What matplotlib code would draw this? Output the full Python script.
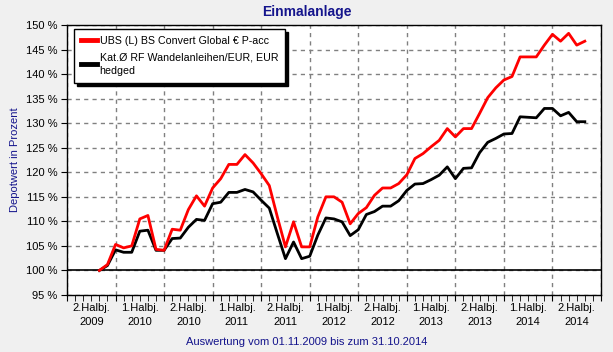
import numpy as np
import matplotlib
matplotlib.use('Agg')
import matplotlib.pyplot as plt

plt.rcParams['font.family'] = ['Liberation Sans', 'DejaVu Sans']

# month index: 0 = 01.07.2009, value at end of each month from 31.10.2009
months = list(range(4, 65))
ubs = [100.0, 101.2, 105.3, 104.6, 105.0, 110.5, 111.2, 104.3, 104.1, 108.4,
       108.2, 112.4, 115.2, 113.1, 116.8, 118.7, 121.6, 121.6, 123.6, 121.9,
       119.7, 117.3, 110.9, 104.8, 109.9, 104.8, 104.8, 110.9, 115.0, 115.0,
       113.9, 109.5, 111.6, 112.8, 115.3, 116.8, 116.8, 117.7, 119.5, 122.8,
       123.8, 125.2, 126.5, 128.9, 127.2, 128.9, 128.9, 132.0, 135.2, 137.2,
       138.8, 139.5, 143.5, 143.5, 143.5, 145.9, 148.1, 146.7, 148.3, 145.9,
       146.7]
kat = [100.0, 101.0, 104.2, 103.7, 103.7, 108.0, 108.2, 104.1, 104.1, 106.5,
       106.6, 108.8, 110.4, 110.2, 113.6, 113.9, 115.9, 115.9, 116.5, 116.0,
       114.3, 112.7, 107.5, 102.4, 105.8, 102.4, 102.9, 107.2, 110.7, 110.5,
       109.9, 107.1, 108.3, 111.4, 112.0, 113.1, 113.1, 114.2, 116.3, 117.6,
       117.7, 118.5, 119.4, 121.1, 118.7, 120.8, 120.9, 124.0, 126.1, 126.9,
       127.8, 127.9, 131.3, 131.2, 131.1, 133.0, 133.0, 131.5, 132.2, 130.3,
       130.3]
halves = ['2.Halbj.\n2009', '1.Halbj.\n2010', '2.Halbj.\n2010', '1.Halbj.\n2011',
          '2.Halbj.\n2011', '1.Halbj.\n2012', '2.Halbj.\n2012', '1.Halbj.\n2013',
          '2.Halbj.\n2013', '1.Halbj.\n2014', '2.Halbj.\n2014']
yticks = list(range(95, 151, 5))

name_ubs = 'UBS (L) BS Convert Global € P-acc'
name_kat = 'Kat.Ø RF Wandelanleihen/EUR, EUR\nhedged'

blue = '#14148c'

fig = plt.figure(figsize=(6.13, 3.52), dpi=100, facecolor='#f0f0f0')
ax = fig.add_axes([67/613, 1-295/352, 534/613, 270/352])
ax.set_facecolor('white')

ax.plot(months, ubs, color='#ff0000', lw=2, label=name_ubs, zorder=4)
ax.plot(months, kat, color='black', lw=2, label=name_kat, zorder=3)
ax.axhline(100, color='black', lw=1.2, zorder=2)

ax.set_xlim(0, 66)
ax.set_ylim(95, 150)
ax.set_yticks(yticks)
ax.set_yticklabels(['%d %%' % v for v in yticks])

# half-year boundaries carry the grid, monthly ticks carry the labels
ax.set_xticks(range(0, 67, 6))
ax.set_xticklabels([])
minor_labels = [''] * 67
for i, lab in enumerate(halves):
    minor_labels[3 + 6 * i] = lab
ax.set_xticks(range(0, 67), minor=True)
ax.set_xticklabels(minor_labels, minor=True)
for t in ax.get_xticklabels(minor=True):
    t.set_linespacing(1.45)

ax.grid(True, which='major', color='#808080', ls=(0, (3, 3)), lw=1)
ax.tick_params(axis='both', which='both', direction='out', length=4,
               labelsize=8, colors='black')
ax.tick_params(axis='x', which='minor', pad=2)
ax.tick_params(axis='y', pad=3)
for s in ax.spines.values():
    s.set_color('black')
    s.set_linewidth(1)

leg = ax.legend(loc='upper left', bbox_to_anchor=(0.013, 0.985),
                borderaxespad=0, fontsize=7.7, frameon=True, fancybox=False,
                edgecolor='black', framealpha=1, handlelength=1.5,
                handletextpad=0.25, labelspacing=0.6, borderpad=0.65,
                shadow={'color': 'black', 'alpha': 1})
for line in leg.get_lines():
    line.set_linewidth(3.5)
for t in leg.get_texts():
    t.set_linespacing(1.45)

fig.text(0.5, 0.966, 'Einmalanlage', ha='center', va='center',
         fontsize=10, fontweight='bold', color=blue)
fig.text(0.024, 1-160/352, 'Depotwert in Prozent', rotation=90, ha='center',
         va='center', fontsize=8, color=blue)
fig.text(0.5, 1-342/352, 'Auswertung vom 01.11.2009 bis zum 31.10.2014',
         ha='center', va='center', fontsize=8, color=blue)

fig.savefig('out.png', dpi=100, facecolor=fig.get_facecolor())
